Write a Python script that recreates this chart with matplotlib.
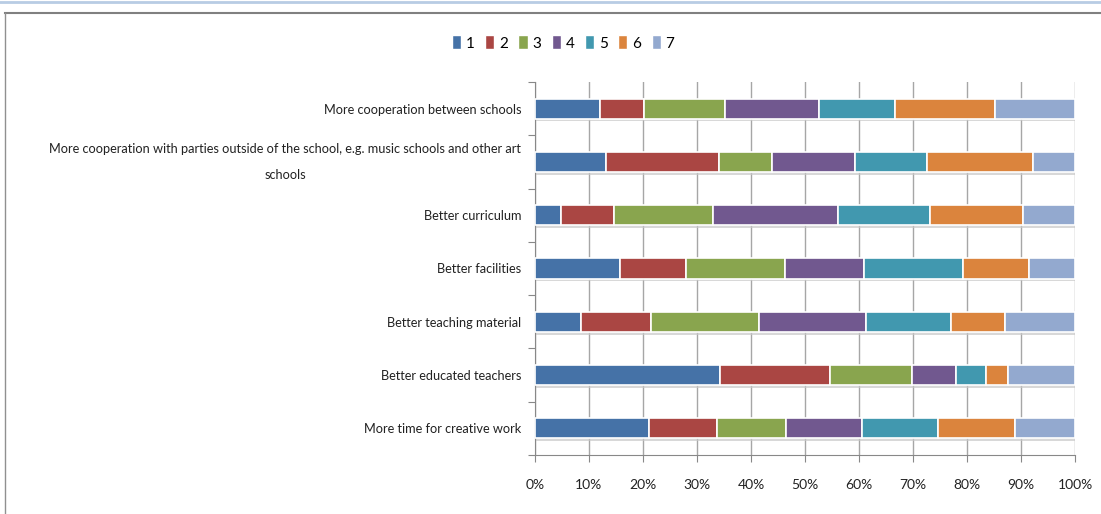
import matplotlib
matplotlib.use("Agg")
import matplotlib.pyplot as plt
from matplotlib.lines import Line2D
from matplotlib.patches import Rectangle
import matplotlib.transforms as mtransforms
import numpy as np

plt.rcParams['font.family'] = ['Lato', 'DejaVu Sans']

categories = [
    "More cooperation between schools",
    "More cooperation with parties outside of the school, e.g. music schools and other art\nschools",
    "Better curriculum",
    "Better facilities",
    "Better teaching material",
    "Better educated teachers",
    "More time for creative work",
]
series_names = ["1", "2", "3", "4", "5", "6", "7"]
s1 = [12.1, 13.2, 4.8, 15.8, 8.5, 34.2, 21.1]
s2 = [8.0, 20.9, 9.8, 12.2, 12.9, 20.5, 12.6]
s3 = [15.0, 9.8, 18.3, 18.3, 20.0, 15.2, 12.8]
s4 = [17.5, 15.4, 23.2, 14.7, 19.9, 8.1, 14.1]
s5 = [14.1, 13.3, 17.1, 18.2, 15.8, 5.5, 14.0]
s6 = [18.4, 19.7, 17.1, 12.2, 10.0, 4.0, 14.2]
s7 = [14.9, 7.7, 9.7, 8.6, 12.9, 12.5, 11.2]
xticks = [0, 10, 20, 30, 40, 50, 60, 70, 80, 90, 100]
xtick_labels = ["0%", "10%", "20%", "30%", "40%", "50%", "60%", "70%", "80%", "90%", "100%"]

colors = ["#4572A7", "#AA4643", "#89A54E", "#71588F", "#4198AF", "#DB843D", "#93A9CF"]
series = [s1, s2, s3, s4, s5, s6, s7]

fig = plt.figure(figsize=(11.01, 5.14), dpi=100)
ax = fig.add_axes([0.4859, 0.1148, 0.4905, 0.7257])

n = len(categories)
y = np.arange(n)[::-1]
data = np.array(series, dtype=float)
totals = data.sum(axis=0)
pct = data / totals * 100
left = np.zeros(n)
h = 0.38
fs_y = 9.2
fs_x = 10

# soft shadow under each whole bar
ax.barh(y - 0.05, pct.sum(axis=0), left=0, height=h, color="#C8C8C8", alpha=0.7,
        edgecolor="none", zorder=2)
for i, vals in enumerate(pct):
    ax.barh(y, vals, left=left, height=h, color=colors[i], edgecolor="white",
            linewidth=1.2, zorder=3, label=series_names[i])
    left += vals

ax.set_xlim(0, 100)
ax.set_ylim(-0.5, n - 0.5)
ax.set_xticks(xticks)
ax.set_xticklabels(xtick_labels, fontsize=fs_x, color="#222222")
ax.set_yticks(y)
ax.set_yticklabels(categories, fontsize=fs_y, color="#222222")
ax.set_yticks(np.arange(n + 1) - 0.5, minor=True)
ax.tick_params(axis='y', which='major', length=0, pad=10)
ax.tick_params(axis='y', which='minor', length=5, color="#888888", width=0.8)
ax.tick_params(axis='x', which='major', length=5, color="#888888", width=0.8, pad=12)
for lab in ax.get_yticklabels():
    lab.set_multialignment('center')
    if "\n" in lab.get_text():
        lab.set_linespacing(2.4)
        lab.set_transform(lab.get_transform() +
                          mtransforms.ScaledTranslation(0, 6 / 72, fig.dpi_scale_trans))

ax.grid(axis='x', color="#A6A6A6", linewidth=1.0, zorder=0)
ax.set_axisbelow(True)
for side in ["top", "right"]:
    ax.spines[side].set_visible(False)
for side in ["left", "bottom"]:
    ax.spines[side].set_color("#888888")
    ax.spines[side].set_linewidth(0.8)

# legend
handles = [Rectangle((0, 0), 1, 1, facecolor=c, edgecolor="white") for c in colors]
fig.legend(handles, series_names, loc="center", bbox_to_anchor=(563 / 1101, 1 - 43 / 514),
           ncol=7, frameon=False, fontsize=fs_x + 1, handlelength=0.6, handleheight=1.0,
           handletextpad=0.3, columnspacing=0.7)

# chart frame lines
fig.add_artist(Line2D([0, 1], [1 - 2 / 514, 1 - 2 / 514], color="#B8CCE4", linewidth=2,
                      transform=fig.transFigure))
fig.add_artist(Line2D([5 / 1101, 1], [1 - 13 / 514, 1 - 13 / 514], color="#808080", linewidth=1.5,
                      transform=fig.transFigure))
fig.add_artist(Line2D([5 / 1101, 5 / 1101], [0, 1 - 13 / 514], color="#909090", linewidth=1.0,
                      transform=fig.transFigure))

fig.savefig("out.png", dpi=100)
